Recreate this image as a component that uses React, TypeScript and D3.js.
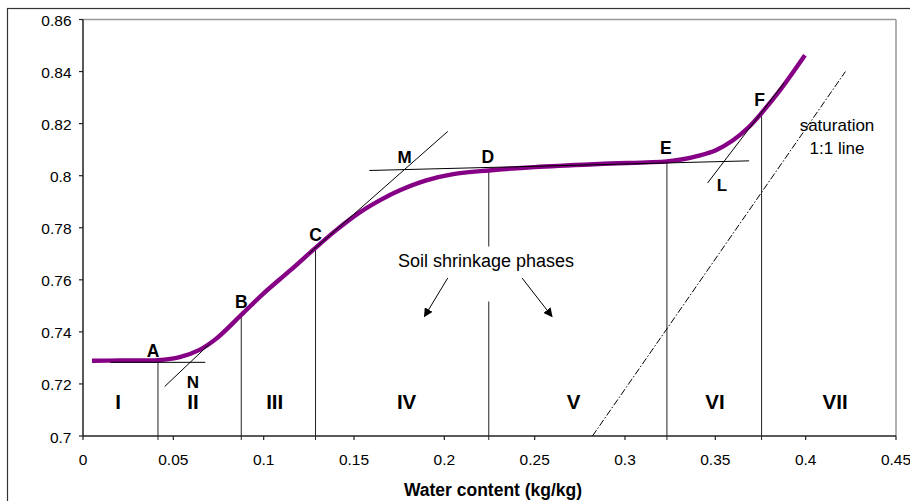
import * as d3 from "d3";

// shrinkage curve
const water = [0.005, 0.02, 0.035, 0.0415, 0.0535, 0.0645, 0.0738, 0.0876, 0.1, 0.115, 0.1287, 0.14, 0.153, 0.165, 0.1751, 0.19, 0.205, 0.2246, 0.25, 0.2858, 0.3232, 0.332, 0.341, 0.3503, 0.3596, 0.3687, 0.3756, 0.3853, 0.3996];
const volume = [0.7289, 0.729, 0.729, 0.7291, 0.7303, 0.7331, 0.7374, 0.7465, 0.7548, 0.7638, 0.7723, 0.779, 0.7858, 0.7908, 0.7943, 0.7982, 0.8006, 0.802, 0.8033, 0.8045, 0.8055, 0.8063, 0.8077, 0.8098, 0.8135, 0.8188, 0.8241, 0.8324, 0.8463];

const xTicks = [0, 0.05, 0.1, 0.15, 0.2, 0.25, 0.3, 0.35, 0.4, 0.45];
const yTicks = [0.7, 0.72, 0.74, 0.76, 0.78, 0.8, 0.82, 0.84, 0.86];

// transition points A..F
const pointNames = ["A", "B", "C", "D", "E", "F"];
const pointX = [0.0415, 0.0876, 0.1287, 0.2246, 0.3232, 0.3756];
const pointY = [0.7283, 0.7465, 0.7723, 0.802, 0.8055, 0.8241];

// tangent lines [x1, y1, x2, y2]
const tangents = [
  [0.0152, 0.7283, 0.0677, 0.7283],
  [0.0452, 0.719, 0.0701, 0.7354],
  [0.125, 0.77, 0.2019, 0.817],
  [0.1585, 0.802, 0.3687, 0.8057],
  [0.3457, 0.7972, 0.3881, 0.8357],
];
const saturation = [0.282, 0.7, 0.422, 0.84];

const tangentNames = ["N", "M", "L"];
const tangentLabelX = [0.0608, 0.178, 0.3536];
const tangentLabelY = [0.7185, 0.8049, 0.7942];

const phases = ["I", "II", "III", "IV", "V", "VI", "VII"];
const phaseX = [0.0194, 0.0609, 0.1061, 0.1791, 0.2715, 0.3498, 0.4163];
const phaseY = 0.7103;

const arrows = [
  [0.2019, 0.7607, 0.189, 0.7459],
  [0.243, 0.7607, 0.2596, 0.7459],
];

const W = 910;
const H = 501;
const LEFT = 83;
const RIGHT = 896;
const TOP = 19.5;
const BOTTOM = 436;

export default function App() {
  const x = d3.scaleLinear().domain([0, 0.45]).range([LEFT, RIGHT]);
  const y = d3.scaleLinear().domain([0.7, 0.86]).range([BOTTOM, TOP]);

  const line = d3
    .line<number>()
    .x((d, i) => x(water[i]))
    .y((d) => y(d))
    .curve(d3.curveCatmullRom.alpha(0.5));

  const font = "'Liberation Sans', Arial, sans-serif";
  // where the D drop line breaks for the caption
  const gapTop = 246.5;
  const gapBottom = 301.5;

  return (
    <div style={{ position: "absolute", left: 0, top: 0 }}>
      <svg width={W} height={H} style={{ display: "block" }} fontFamily={font}>
        <defs>
          <marker id="arr" viewBox="0 0 10 10" refX="9" refY="5" markerWidth="9" markerHeight="9" orient="auto">
            <path d="M0,0 L10,5 L0,10 Z" fill="#000" />
          </marker>
        </defs>
        <rect x={0} y={0} width={W} height={H} fill="#fff" />
        {/* outer chart frame */}
        <rect x={7.5} y={8.5} width={940} height={540} fill="none" stroke="#333" strokeWidth={1.2} />

        {/* plot area border */}
        <line x1={LEFT} x2={RIGHT} y1={TOP} y2={TOP} stroke="#999" strokeWidth={1.5} />
        <line x1={RIGHT} x2={RIGHT} y1={TOP} y2={BOTTOM} stroke="#999" strokeWidth={1.5} />

        {/* drop lines */}
        {pointX.map((px, i) =>
          pointNames[i] === "D" ? (
            <g key={i}>
              <line x1={x(px)} x2={x(px)} y1={y(pointY[i])} y2={gapTop} stroke="#222" strokeWidth={1} />
              <line x1={x(px)} x2={x(px)} y1={gapBottom} y2={BOTTOM + 4} stroke="#222" strokeWidth={1} />
            </g>
          ) : (
            <line key={i} x1={x(px)} x2={x(px)} y1={y(pointY[i])} y2={BOTTOM + 4} stroke="#222" strokeWidth={1} />
          )
        )}

        {/* curve */}
        <path d={line(volume) || ""} fill="none" stroke="#860086" strokeWidth={4.4} strokeLinejoin="round" />

        {/* tangents */}
        {tangents.map((t, i) => (
          <line key={i} x1={x(t[0])} y1={y(t[1])} x2={x(t[2])} y2={y(t[3])} stroke="#000" strokeWidth={1} />
        ))}
        <line
          x1={x(saturation[0])}
          y1={y(saturation[1])}
          x2={x(saturation[2])}
          y2={y(saturation[3])}
          stroke="#000"
          strokeWidth={1}
          strokeDasharray="7,2,1.5,2"
        />

        {/* arrows */}
        {arrows.map((a, i) => (
          <line key={i} x1={x(a[0])} y1={y(a[1])} x2={x(a[2])} y2={y(a[3])} stroke="#000" strokeWidth={1} markerEnd="url(#arr)" />
        ))}

        {/* axes */}
        <line x1={LEFT} x2={LEFT} y1={TOP} y2={BOTTOM} stroke="#222" strokeWidth={1.5} />
        <line x1={LEFT} x2={RIGHT} y1={BOTTOM} y2={BOTTOM} stroke="#222" strokeWidth={1.5} />
        {yTicks.map((t) => (
          <g key={t}>
            <line x1={LEFT - 4} x2={LEFT} y1={y(t)} y2={y(t)} stroke="#222" strokeWidth={1.2} />
            <text x={71.5} y={y(t) + 6.5} textAnchor="end" fontSize={15.5} fill="#000">
              {String(t)}
            </text>
          </g>
        ))}
        {xTicks.map((t) => (
          <g key={t}>
            <line x1={x(t)} x2={x(t)} y1={BOTTOM} y2={BOTTOM + 4} stroke="#222" strokeWidth={1.2} />
            <text x={x(t)} y={465} textAnchor="middle" fontSize={15.5} fill="#000">
              {String(t)}
            </text>
          </g>
        ))}
        <text x={493} y={496} textAnchor="middle" fontSize={17.5} fontWeight="bold">
          Water content (kg/kg)
        </text>

        {/* labels */}
        {pointNames.map((n, i) => (
          <text
            key={n}
            x={x(pointX[i]) + (n === "B" || n === "C" ? 0 : n === "A" ? -5 : n === "F" ? -2 : -1)}
            y={y(pointY[i]) - (n === "A" ? 5.5 : 7)}
            textAnchor="middle"
            fontSize={17.5}
            fontWeight="bold"
          >
            {n}
          </text>
        ))}
        {tangentNames.map((n, i) => (
          <text key={n} x={x(tangentLabelX[i])} y={y(tangentLabelY[i])} textAnchor="middle" fontSize={17} fontWeight="bold">
            {n}
          </text>
        ))}
        {phases.map((p, i) => (
          <text key={p} x={x(phaseX[i])} y={y(phaseY)} textAnchor="middle" fontSize={20.5} fontWeight="bold">
            {p}
          </text>
        ))}
        <text x={486} y={267} textAnchor="middle" fontSize={18}>
          Soil shrinkage phases
        </text>
        <text x={837} y={131} textAnchor="middle" fontSize={17}>
          saturation
        </text>
        <text x={837} y={153.5} textAnchor="middle" fontSize={17}>
          1:1 line
        </text>
      </svg>
    </div>
  );
}
